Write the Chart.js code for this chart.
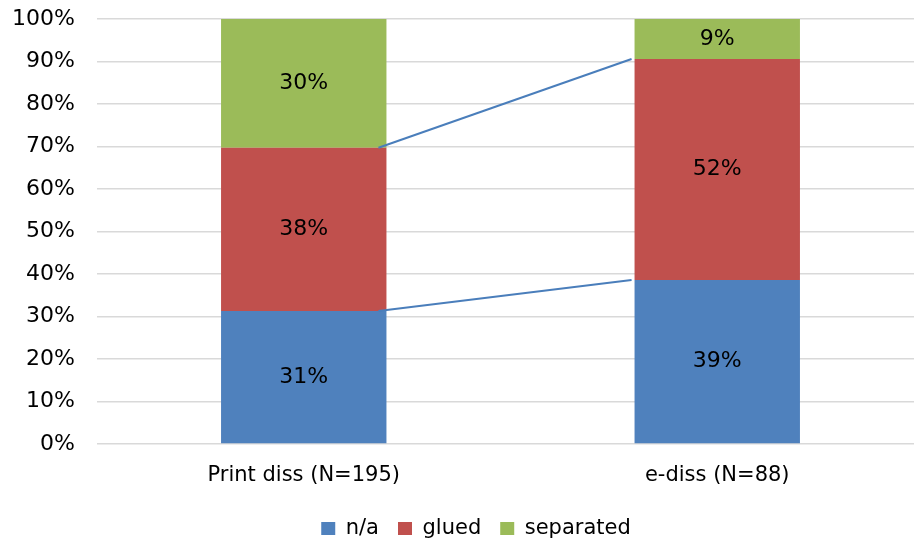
<!DOCTYPE html>
<html>
<head>
<meta charset="utf-8">
<script src="https://cdn.jsdelivr.net/npm/chart.js@4"></script>
<style>
html,body{margin:0;padding:0;background:#fff;overflow:hidden;}
#wrap{width:914px;height:543px;overflow:hidden;}
</style>
</head>
<body>
<div id="wrap"><canvas id="c" width="924" height="543"></canvas></div>
<script>
const categories = ["Print diss (N=195)", "e-diss (N=88)"];
const naValues = [31.3, 38.6];
const gluedValues = [38.4, 52.0];
const separatedValues = [30.3, 9.4];
const seriesNames = ["n/a", "glued", "separated"];
const colors = ["#4f81bd", "#c0504d", "#9bbb59"];
const FONT = "'DejaVu Sans', sans-serif";

const seriesLines = {
  id: 'seriesLines',
  afterDatasetsDraw(chart) {
    const ctx = chart.ctx;
    ctx.save();
    ctx.strokeStyle = '#4a7ebb';
    ctx.lineWidth = 2;
    for (let d = 0; d < chart.data.datasets.length - 1; d++) {
      const meta = chart.getDatasetMeta(d);
      const a = meta.data[0], b = meta.data[1];
      ctx.beginPath();
      ctx.moveTo(a.x + a.width / 2 - 8, a.y);
      ctx.lineTo(b.x - b.width / 2 - 3, b.y);
      ctx.stroke();
    }
    ctx.restore();
  }
};

const barLabels = {
  id: 'barLabels',
  afterDatasetsDraw(chart) {
    const ctx = chart.ctx;
    ctx.save();
    ctx.fillStyle = '#000';
    ctx.font = "22px " + FONT;
    ctx.textAlign = 'center';
    ctx.textBaseline = 'middle';
    chart.data.datasets.forEach((ds, i) => {
      const meta = chart.getDatasetMeta(i);
      meta.data.forEach((el, j) => {
        const y = (el.y + el.base) / 2;
        ctx.fillText(Math.round(ds.data[j]) + '%', el.x, y);
      });
    });
    ctx.restore();
  }
};

// Pin the plot area and boxes to the reference geometry
const layoutFix = {
  id: 'layoutFix',
  beforeLayout(chart) {
    const lg = chart.legend;
    if (lg && !lg._patched) {
      const orig = lg.fit.bind(lg);
      lg.fit = function () { orig(); this.height = 52; };
      lg._patched = true;
    }
  },
  afterLayout(chart) {
    const TOP = 19, BOTTOM = 444;
    const y = chart.scales.y, x = chart.scales.x;
    y.top = TOP; y.bottom = BOTTOM; y.height = BOTTOM - TOP; y.configure();
    const xh = x.bottom - x.top;
    x.top = BOTTOM - 1; x.bottom = x.top + xh; x.configure();
    chart.chartArea.top = TOP; chart.chartArea.bottom = BOTTOM;
    chart.chartArea.height = BOTTOM - TOP;
    if (chart.legend) {
      chart.legend.left += 14; chart.legend.right += 14;
      chart.legend.top += 8; chart.legend.bottom += 8;
    }
  }
};

new Chart(document.getElementById('c'), {
  type: 'bar',
  data: {
    labels: categories,
    datasets: [
      { label: seriesNames[0], data: naValues, backgroundColor: colors[0] },
      { label: seriesNames[1], data: gluedValues, backgroundColor: colors[1] },
      { label: seriesNames[2], data: separatedValues, backgroundColor: colors[2] }
    ]
  },
  options: {
    responsive: false,
    animation: false,
    devicePixelRatio: 1,
    layout: { padding: { top: 19, right: 0, left: 0, bottom: 0 } },
    datasets: { bar: { barPercentage: 0.8, categoryPercentage: 0.5 } },
    scales: {
      x: {
        stacked: true,
        grid: { display: false, drawTicks: false },
        border: { display: false },
        ticks: { color: '#000', font: { family: FONT, size: 21 }, padding: 20 }
      },
      y: {
        stacked: true,
        min: 0, max: 100,
        afterFit(s) { s.width = 97; s.paddingTop = 8; s.paddingBottom = 8; },
        grid: { color: '#d9d9d9', lineWidth: 1.5, drawTicks: false },
        border: { display: false },
        ticks: {
          stepSize: 10, color: '#000', padding: 22,
          font: { family: FONT, size: 22 },
          callback: v => v + '%'
        }
      }
    },
    plugins: {
      legend: {
        position: 'bottom',
        labels: {
          color: '#000', font: { family: FONT, size: 21 },
          boxWidth: 14, boxHeight: 13, padding: 19
        }
      },
      tooltip: { enabled: false }
    }
  },
  plugins: [seriesLines, barLabels, layoutFix]
});
</script>
</body>
</html>
